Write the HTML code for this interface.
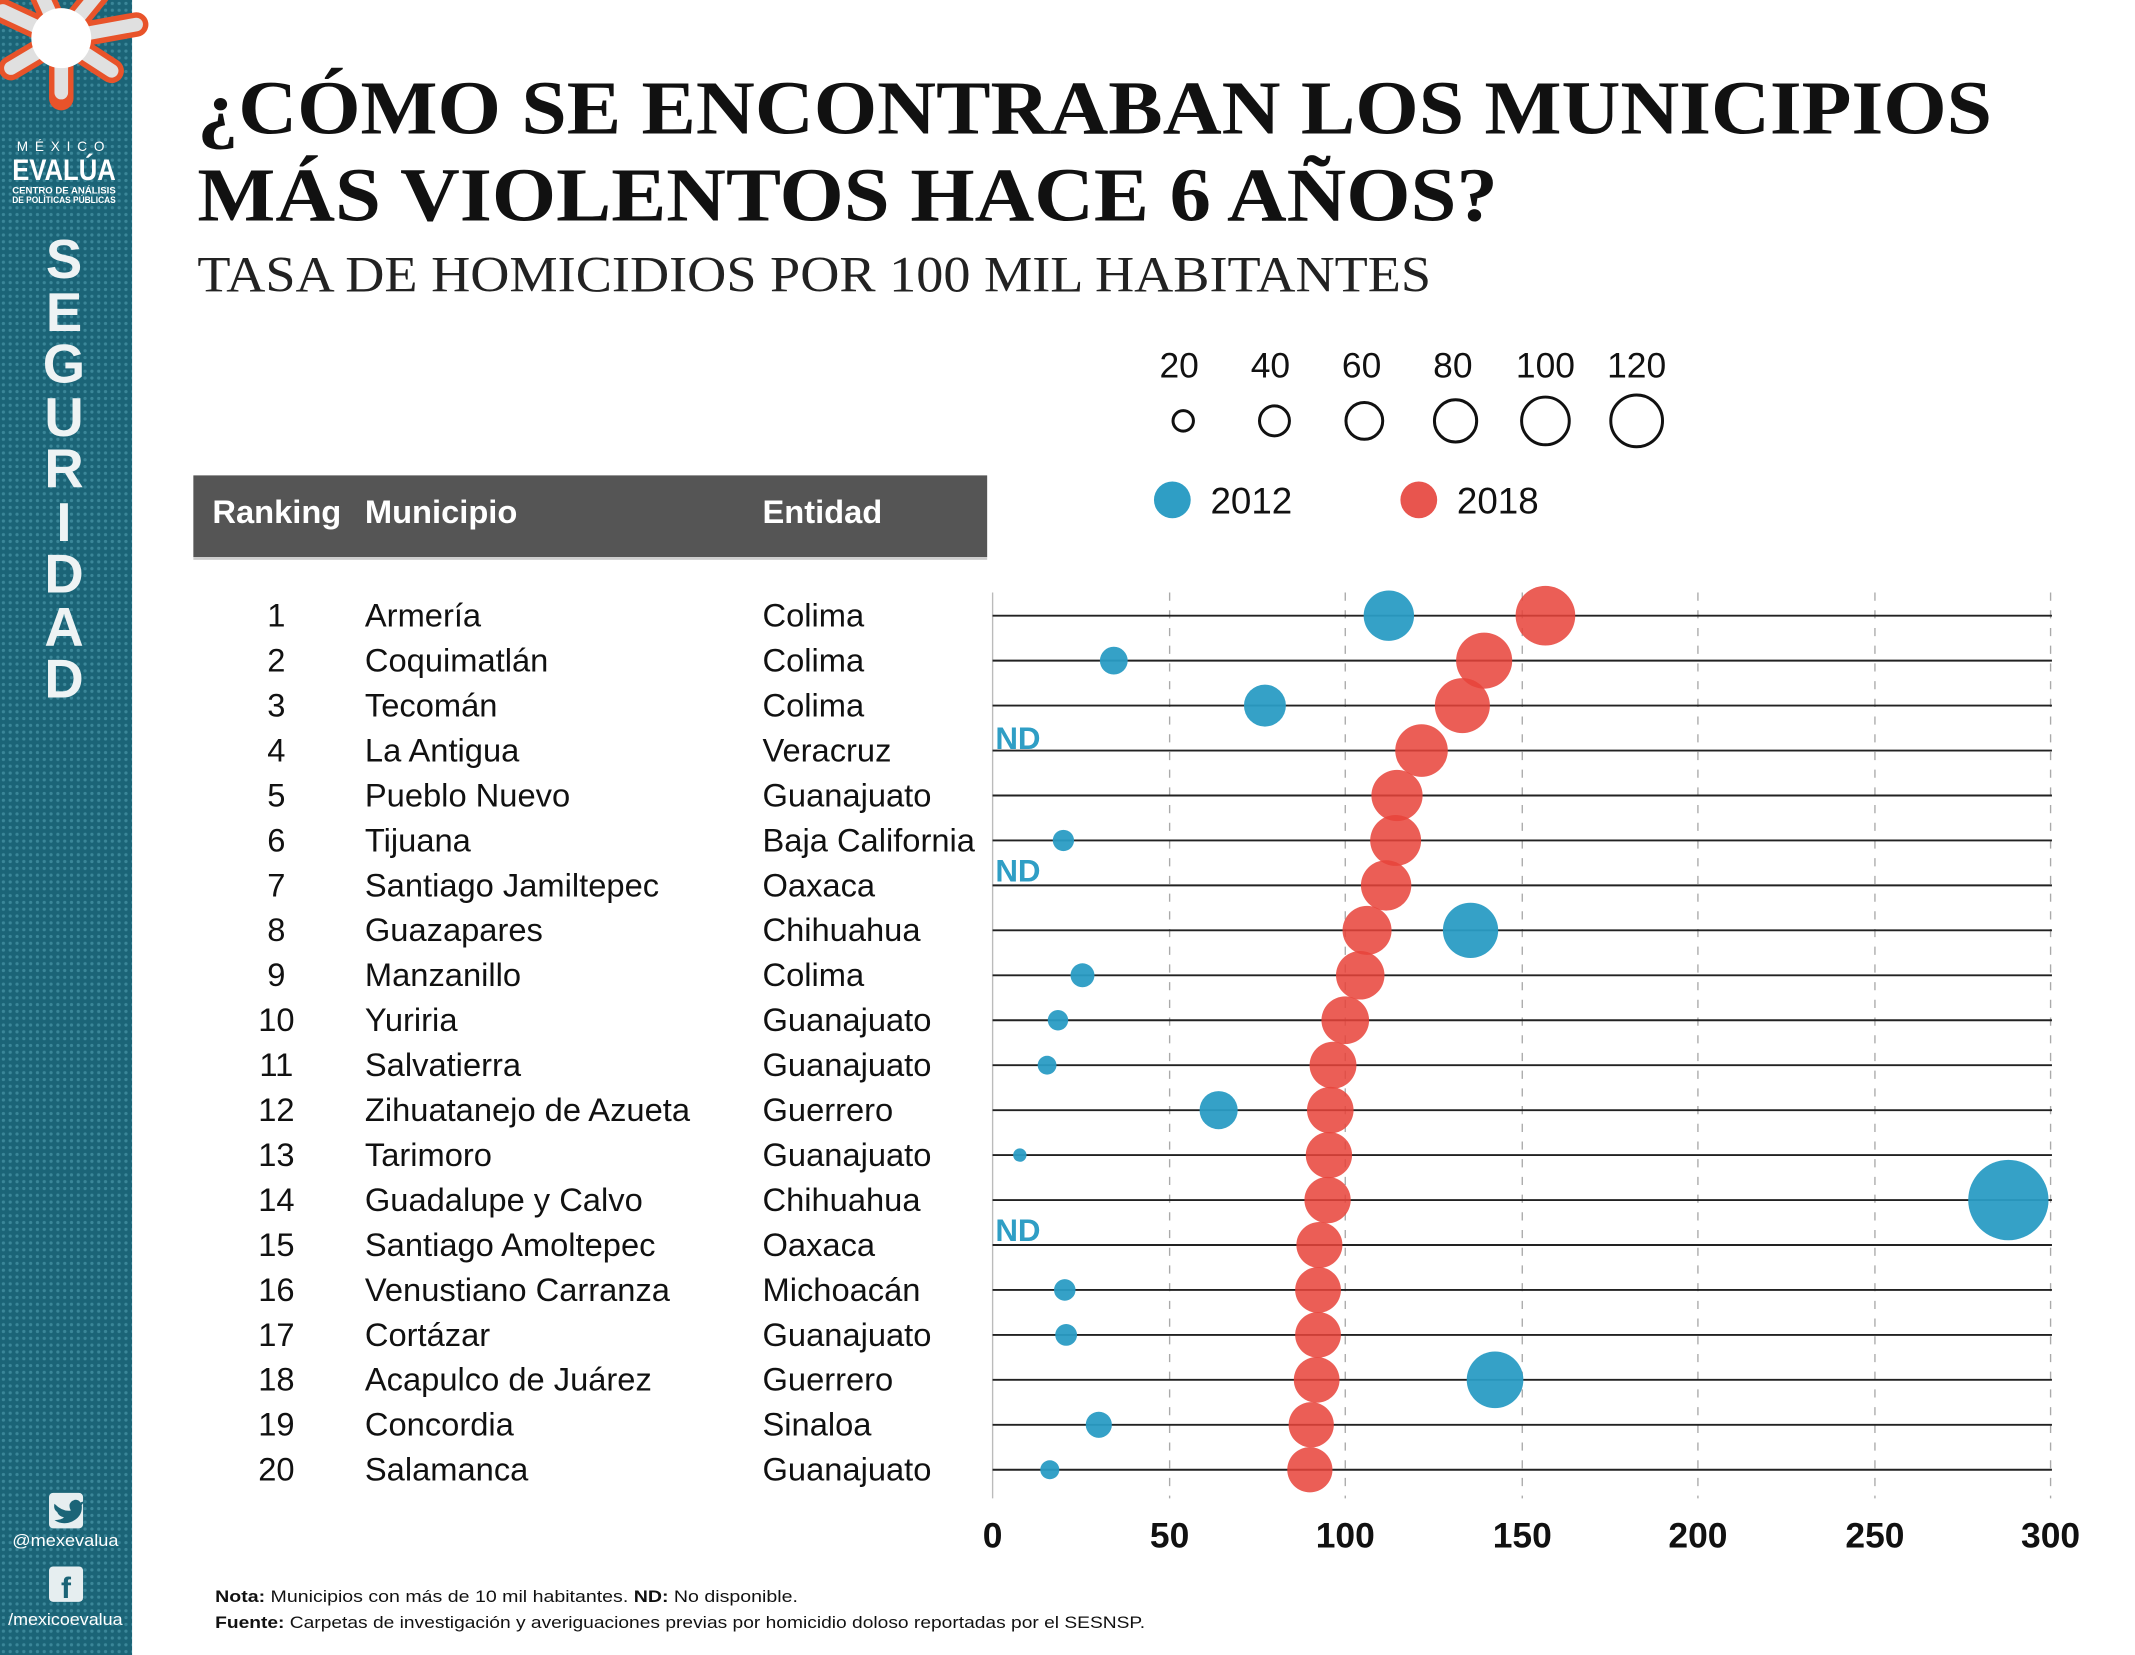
<!DOCTYPE html>
<html><head><meta charset="utf-8"><style>
html,body{margin:0;padding:0;background:#fff;overflow:hidden}
svg{display:block}
</style></head><body>
<svg xmlns="http://www.w3.org/2000/svg" width="2135" height="1655" viewBox="0 0 1568 1215" preserveAspectRatio="none" font-family="'Liberation Sans', sans-serif">
<defs>
<pattern id="dots" x="0" y="0" width="5" height="5" patternUnits="userSpaceOnUse">
<rect width="5" height="5" fill="#1b6477"/>
<circle cx="2.5" cy="2.5" r="1.2" fill="#3b8799"/>
</pattern>
</defs>
<rect x="0" y="0" width="1568" height="1215" fill="#fff"/>
<!-- sidebar -->
<rect x="0" y="0" width="97" height="1215" fill="url(#dots)"/>
<!-- logo star -->
<g stroke-linecap="round" stroke-linejoin="round">
<g stroke="#e8532a" stroke-width="18" fill="none">
<path d="M45 28 L2 8 M45 28 L100 18 M45 28 L45 72 M45 28 L8 50 M45 28 L82 52 M45 28 L30 -5 M45 28 L72 -5"/>
</g>
<g stroke="#e0e0e0" stroke-width="10" fill="none">
<path d="M45 28 L2 8 M45 28 L100 18 M45 28 L45 68 M45 28 L8 50 M45 28 L82 52 M45 28 L30 -5 M45 28 L72 -5"/>
</g>
<circle cx="45" cy="28" r="22" fill="#fff"/>
</g>
<text x="47" y="111" text-anchor="middle" fill="#fff" font-size="10" letter-spacing="5">MÉXICO</text>
<text x="47" y="132" text-anchor="middle" fill="#fff" font-size="22" font-weight="bold" textLength="76" lengthAdjust="spacingAndGlyphs">EVALÚA</text>
<text x="47" y="142" text-anchor="middle" fill="#fff" font-size="6.5" font-weight="bold" textLength="76" lengthAdjust="spacingAndGlyphs">CENTRO DE ANÁLISIS</text>
<text x="47" y="149" text-anchor="middle" fill="#fff" font-size="6.5" font-weight="bold" textLength="76" lengthAdjust="spacingAndGlyphs">DE POLÍTICAS PÚBLICAS</text>
<g fill="#eef3f4" font-size="40" font-weight="bold" text-anchor="middle">
<text x="47" y="204">S</text><text x="47" y="243">E</text><text x="47" y="281">G</text>
<text x="47" y="320">U</text><text x="47" y="358">R</text><text x="47" y="397">I</text>
<text x="47" y="435">D</text><text x="47" y="474">A</text><text x="47" y="512">D</text>
</g>
<rect x="36" y="1096" width="25" height="26" rx="3" fill="#e6eef0"/>
<path d="M40 1104 q6 6 12 5 q-3 -6 3 -8 q3 0 4 2 l3 -1 l-2 3 q1 8 -7 12 q-7 3 -13 -1 q5 0 7 -2 q-4 -1 -5 -4 q-3 -2 -2 -6z" fill="#1b6477"/>
<text x="48" y="1135" text-anchor="middle" fill="#fff" font-size="12" textLength="78" lengthAdjust="spacingAndGlyphs">@mexevalua</text>
<rect x="36" y="1150" width="25" height="26" rx="3" fill="#e6eef0"/>
<text x="48.5" y="1173" text-anchor="middle" fill="#1b6477" font-size="22" font-weight="bold">f</text>
<text x="48" y="1193" text-anchor="middle" fill="#fff" font-size="12" textLength="84" lengthAdjust="spacingAndGlyphs">/mexicoevalua</text>

<!-- titles -->
<g font-family="'Liberation Serif', serif" font-weight="bold" fill="#111">
<text x="145" y="98" font-size="56" textLength="1318" lengthAdjust="spacingAndGlyphs">¿CÓMO SE ENCONTRABAN LOS MUNICIPIOS</text>
<text x="145" y="162" font-size="56" textLength="955" lengthAdjust="spacingAndGlyphs">MÁS VIOLENTOS HACE 6 AÑOS?</text>
</g>
<text x="145" y="214" font-family="'Liberation Serif', serif" font-size="37" fill="#222" textLength="906" lengthAdjust="spacingAndGlyphs">TASA DE HOMICIDIOS POR 100 MIL HABITANTES</text>

<!-- size legend -->
<g font-size="26" fill="#111" text-anchor="middle">
<text x="866" y="277">20</text><text x="933" y="277">40</text><text x="1000" y="277">60</text>
<text x="1067" y="277">80</text><text x="1135" y="277">100</text><text x="1202" y="277">120</text>
</g>
<g fill="none" stroke="#111" stroke-width="2.2">
<circle cx="869" cy="309" r="7.5"/><circle cx="936" cy="309" r="11"/><circle cx="1002" cy="309" r="13.5"/>
<circle cx="1069" cy="309" r="15.5"/><circle cx="1135" cy="309" r="17.5"/><circle cx="1202" cy="309" r="19"/>
</g>
<circle cx="861" cy="367" r="13.5" fill="#2f9ec5"/>
<circle cx="1042" cy="367" r="13.5" fill="#e8554e"/>
<text x="889" y="377" font-size="27" fill="#111">2012</text>
<text x="1070" y="377" font-size="27" fill="#111">2018</text>

<!-- header -->
<rect x="142" y="349" width="583" height="60" fill="#555"/>
<rect x="142" y="409" width="583" height="2" fill="#ccc"/>
<g fill="#fff" font-size="24" font-weight="bold">
<text x="156" y="384">Ranking</text><text x="268" y="384">Municipio</text><text x="560" y="384">Entidad</text>
</g>

<!-- grid -->
<g stroke="#aaa" stroke-width="1" stroke-dasharray="6,7">
<line x1="859" y1="435" x2="859" y2="1100"/><line x1="988" y1="435" x2="988" y2="1100"/>
<line x1="1118" y1="435" x2="1118" y2="1100"/><line x1="1247" y1="435" x2="1247" y2="1100"/>
<line x1="1377" y1="435" x2="1377" y2="1100"/><line x1="1506" y1="435" x2="1506" y2="1100"/>
</g>
<line x1="729" y1="435" x2="729" y2="1100" stroke="#bbb" stroke-width="1"/>

<g font-size="26" fill="#111" font-weight="bold" text-anchor="middle">
<text x="729" y="1136">0</text><text x="859" y="1136">50</text><text x="988" y="1136">100</text>
<text x="1118" y="1136">150</text><text x="1247" y="1136">200</text><text x="1377" y="1136">250</text><text x="1506" y="1136">300</text>
</g>

<g font-size="12.5" fill="#111">
<text x="158" y="1176" textLength="428" lengthAdjust="spacingAndGlyphs"><tspan font-weight="bold">Nota:</tspan> Municipios con más de 10 mil habitantes.  <tspan font-weight="bold">ND:</tspan> No disponible.</text>
<text x="158" y="1195" textLength="683" lengthAdjust="spacingAndGlyphs"><tspan font-weight="bold">Fuente:</tspan> Carpetas de investigación y averiguaciones previas por homicidio doloso reportadas por el SESNSP.</text>
</g>

<!-- row lines -->
<g stroke="#222" stroke-width="1.4">
<line x1="729" y1="452" x2="1507" y2="452"/><line x1="729" y1="485" x2="1507" y2="485"/>
<line x1="729" y1="518" x2="1507" y2="518"/><line x1="729" y1="551" x2="1507" y2="551"/>
<line x1="729" y1="584" x2="1507" y2="584"/><line x1="729" y1="617" x2="1507" y2="617"/>
<line x1="729" y1="650" x2="1507" y2="650"/><line x1="729" y1="683" x2="1507" y2="683"/>
<line x1="729" y1="716" x2="1507" y2="716"/><line x1="729" y1="749" x2="1507" y2="749"/>
<line x1="729" y1="782" x2="1507" y2="782"/><line x1="729" y1="815" x2="1507" y2="815"/>
<line x1="729" y1="848" x2="1507" y2="848"/><line x1="729" y1="881" x2="1507" y2="881"/>
<line x1="729" y1="914" x2="1507" y2="914"/><line x1="729" y1="947" x2="1507" y2="947"/>
<line x1="729" y1="980" x2="1507" y2="980"/><line x1="729" y1="1013" x2="1507" y2="1013"/>
<line x1="729" y1="1046" x2="1507" y2="1046"/><line x1="729" y1="1079" x2="1507" y2="1079"/>
</g>

<g font-size="24" fill="#111">
<g text-anchor="middle">
<text x="203" y="460">1</text><text x="203" y="493">2</text><text x="203" y="526">3</text><text x="203" y="559">4</text>
<text x="203" y="592">5</text><text x="203" y="625">6</text><text x="203" y="658">7</text><text x="203" y="691">8</text>
<text x="203" y="724">9</text><text x="203" y="757">10</text><text x="203" y="790">11</text><text x="203" y="823">12</text>
<text x="203" y="856">13</text><text x="203" y="889">14</text><text x="203" y="922">15</text><text x="203" y="955">16</text>
<text x="203" y="988">17</text><text x="203" y="1021">18</text><text x="203" y="1054">19</text><text x="203" y="1087">20</text>
</g>
<text x="268" y="460">Armería</text><text x="268" y="493">Coquimatlán</text><text x="268" y="526">Tecomán</text>
<text x="268" y="559">La Antigua</text><text x="268" y="592">Pueblo Nuevo</text><text x="268" y="625">Tijuana</text>
<text x="268" y="658">Santiago Jamiltepec</text><text x="268" y="691">Guazapares</text><text x="268" y="724">Manzanillo</text>
<text x="268" y="757">Yuriria</text><text x="268" y="790">Salvatierra</text><text x="268" y="823">Zihuatanejo de Azueta</text>
<text x="268" y="856">Tarimoro</text><text x="268" y="889">Guadalupe y Calvo</text><text x="268" y="922">Santiago Amoltepec</text>
<text x="268" y="955">Venustiano Carranza</text><text x="268" y="988">Cortázar</text><text x="268" y="1021">Acapulco de Juárez</text>
<text x="268" y="1054">Concordia</text><text x="268" y="1087">Salamanca</text>
<text x="560" y="460">Colima</text><text x="560" y="493">Colima</text><text x="560" y="526">Colima</text>
<text x="560" y="559">Veracruz</text><text x="560" y="592">Guanajuato</text><text x="560" y="625">Baja California</text>
<text x="560" y="658">Oaxaca</text><text x="560" y="691">Chihuahua</text><text x="560" y="724">Colima</text>
<text x="560" y="757">Guanajuato</text><text x="560" y="790">Guanajuato</text><text x="560" y="823">Guerrero</text>
<text x="560" y="856">Guanajuato</text><text x="560" y="889">Chihuahua</text><text x="560" y="922">Oaxaca</text>
<text x="560" y="955">Michoacán</text><text x="560" y="988">Guanajuato</text><text x="560" y="1021">Guerrero</text>
<text x="560" y="1054">Sinaloa</text><text x="560" y="1087">Guanajuato</text>
</g>

<g font-size="23" font-weight="bold" fill="#2f9ec5">
<text x="731" y="550">ND</text><text x="731" y="647">ND</text><text x="731" y="911">ND</text>
</g>

<!-- 2012 -->
<g fill="#2a9cc4" fill-opacity="0.95">
<circle cx="1020" cy="452" r="18.5"/><circle cx="818" cy="485" r="10.2"/><circle cx="929" cy="518" r="15.4"/>
<circle cx="781" cy="617" r="7.8"/><circle cx="1080" cy="683" r="20.3"/><circle cx="795" cy="716" r="8.8"/>
<circle cx="777" cy="749" r="7.5"/><circle cx="769" cy="782" r="6.9"/><circle cx="895" cy="815" r="14"/>
<circle cx="749" cy="848" r="4.9"/><circle cx="1475" cy="881" r="29.5"/><circle cx="782" cy="947" r="7.9"/>
<circle cx="783" cy="980" r="8"/><circle cx="1098" cy="1013" r="20.8"/><circle cx="807" cy="1046" r="9.6"/>
<circle cx="771" cy="1079" r="7"/>
</g>
<!-- 2018 -->
<g fill="#e8443a" fill-opacity="0.86">
<circle cx="1135" cy="452" r="21.9"/><circle cx="1090" cy="485" r="20.6"/><circle cx="1074" cy="518" r="20.2"/>
<circle cx="1044" cy="551" r="19.3"/><circle cx="1026" cy="584" r="18.8"/><circle cx="1025" cy="617" r="18.7"/>
<circle cx="1018" cy="650" r="18.5"/><circle cx="1004" cy="683" r="18"/><circle cx="999" cy="716" r="17.8"/>
<circle cx="988" cy="749" r="17.5"/><circle cx="979" cy="782" r="17.2"/><circle cx="977" cy="815" r="17.1"/>
<circle cx="976" cy="848" r="17"/><circle cx="975" cy="881" r="17"/><circle cx="969" cy="914" r="16.9"/>
<circle cx="968" cy="947" r="16.8"/><circle cx="968" cy="980" r="16.8"/><circle cx="967" cy="1013" r="16.8"/>
<circle cx="963" cy="1046" r="16.6"/><circle cx="962" cy="1079" r="16.6"/>
</g>
</svg>
</body></html>
